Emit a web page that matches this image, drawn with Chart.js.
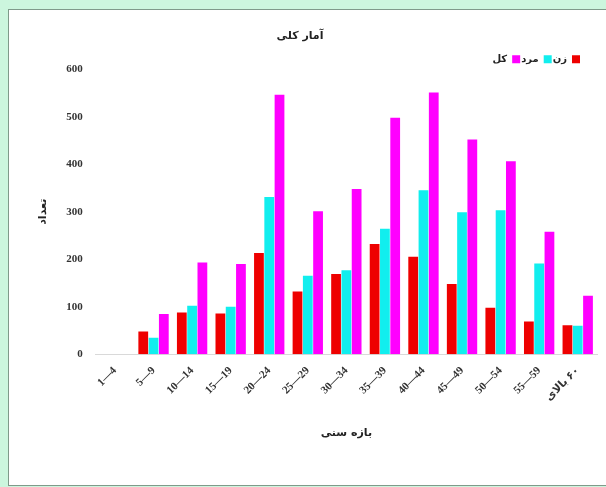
<!DOCTYPE html>
<html>
<head>
<meta charset="utf-8">
<script src="https://cdn.jsdelivr.net/npm/chart.js@4/dist/chart.umd.min.js"></script>
<style>
  html, body { margin: 0; padding: 0; background: #ccf6de; overflow: hidden; width: 606px; height: 487px; }
  #panel { position: absolute; left: 8px; top: 9px; width: 640px; height: 475px; background: #fff; border: 1px solid #7f9a8a; }
  #wrap { position: absolute; left: 0; top: 0; width: 606px; height: 487px; }
</style>
</head>
<body>
<div id="panel"></div>
<div id="wrap"><canvas id="chartAge"></canvas></div>
<script>
// بازه‌های سنی
let bazeha = ['1—4', '5—9', '10—14', '15—19', '20—24', '25—29', '30—34', '35—39', '40—44', '45—49', '50—54', '55—59', 'بالای\u200E ۶۰'];

let zan = [0, 48, 88, 86, 213, 132, 169, 232, 205, 148, 98, 69, 61];
let mard = [0, 35, 102, 100, 331, 165, 177, 264, 345, 299, 303, 191, 60];
let kol = [0, 85, 193, 190, 546, 301, 348, 498, 551, 452, 406, 258, 123];

let yTicks = [0, 100, 200, 300, 400, 500, 600];

let fontTick = { family: "'Liberation Serif', 'DejaVu Sans'", size: 11, weight: 'bold' };
let fontFa = { family: "'DejaVu Sans', 'Liberation Serif'", size: 11, weight: 'bold' };

// jabejaei onvan va legend mesle excel
let shiftBoxes = {
    id: 'shiftBoxes',
    afterLayout(chart) {
        let lg = chart.legend;
        lg.left -= 16;
        lg.right -= 16;
        lg.top += 5;
        lg.bottom += 5;
        let t = chart.titleBlock;
        t.left -= 17;
        t.right -= 17;
    }
};

let contextAge = document.querySelector('#chartAge').getContext('2d');

let config = {
    type: 'bar',
    data: {
        labels: bazeha,
        datasets: [
            { label: 'زن', data: zan, backgroundColor: '#ee0000' },
            { label: 'مرد', data: mard, backgroundColor: '#11eeee' },
            { label: 'کل', data: kol, backgroundColor: '#ff00ff' }
        ]
    },
    options: {
        responsive: true,
        maintainAspectRatio: false,
        animation: false,
        datasets: {
            bar: { categoryPercentage: 0.8, barPercentage: 0.95 }
        },
        layout: {
            padding: { top: 30, left: 37, right: 9, bottom: 47 }
        },
        plugins: {
            title: {
                display: true,
                text: 'آمار کلی',
                color: '#222',
                font: { family: "'DejaVu Sans'", size: 11, weight: 'bold' },
                padding: { top: 0, bottom: 5 }
            },
            legend: {
                position: 'top',
                align: 'start',
                rtl: true,
                labels: {
                    boxWidth: 8,
                    boxHeight: 8,
                    padding: 1,
                    color: '#222',
                    font: { family: "'DejaVu Sans'", size: 10, weight: 'bold' }
                }
            },
            tooltip: { enabled: false }
        },
        scales: {
            x: {
                grid: { display: false },
                border: { display: true, color: '#d9d9d9' },
                ticks: {
                    minRotation: 45,
                    maxRotation: 45,
                    color: '#333',
                    font: fontTick,
                    padding: 2
                },
                title: {
                    display: true,
                    text: 'بازه سنی',
                    color: '#222',
                    font: fontFa,
                    padding: { top: 21, bottom: 0 }
                }
            },
            y: {
                min: 0,
                max: 600,
                afterBuildTicks: (axis) => {
                    axis.ticks = yTicks.map(v => ({ value: v }));
                },
                grid: { display: false },
                border: { display: false },
                ticks: {
                    color: '#333',
                    font: fontTick,
                    padding: 5
                },
                title: {
                    display: true,
                    text: 'تعداد',
                    color: '#222',
                    font: fontFa,
                    padding: { top: 0, bottom: 11 }
                }
            }
        }
    },
    plugins: [shiftBoxes]
};

let chartAge = new Chart(contextAge, config);
</script>
</body>
</html>
